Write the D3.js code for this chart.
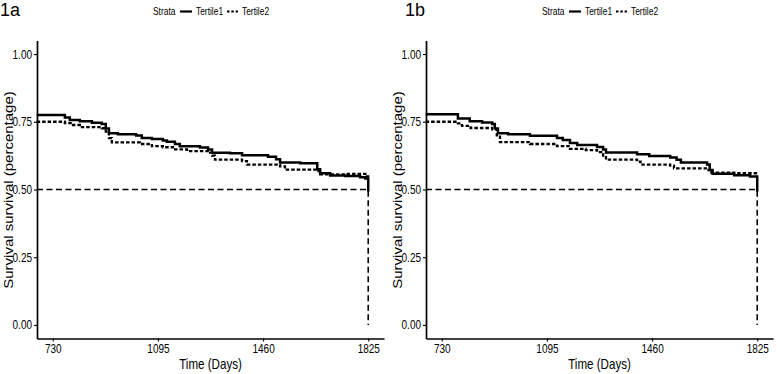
<!DOCTYPE html>
<html><head><meta charset="utf-8">
<script src="https://cdn.jsdelivr.net/npm/d3@7"></script>
<style>body{margin:0;background:#fff}svg{display:block}text{font-family:"Liberation Sans",Arial,sans-serif;fill:#000}</style>
</head><body><svg id="c" width="777" height="374"></svg>
<script>
// ---- data ----
const panelTitles = ["1a", "1b"];
const strataLabels = ["Tertile1", "Tertile2"];
const xTicks = [730, 1095, 1460, 1825];
const yTicks = [0, 0.25, 0.5, 0.75, 1];
const medianSurv = 0.5, medianTime = 1825;
const xDataRange = [730, 1825];
// panel 1a
const t1aTime = [674,772,789,824,866,900,914,925,956,1019,1039,1074,1112,1126,1154,1171,1241,1269,1283,1345,1387,1477,1505,1519,1589,1648,1658,1693,1745,1797,1815,1825];
const t1aSurv = [0.775,0.766,0.757,0.752,0.746,0.742,0.725,0.708,0.704,0.699,0.690,0.686,0.681,0.676,0.668,0.660,0.655,0.648,0.636,0.634,0.626,0.621,0.612,0.600,0.597,0.575,0.560,0.552,0.550,0.545,0.541,0.493];
const t2aTime = [674,772,796,824,900,914,925,935,1032,1074,1112,1147,1196,1276,1283,1293,1387,1404,1519,1536,1648,1658,1745,1815,1825];
const t2aSurv = [0.750,0.745,0.738,0.730,0.726,0.714,0.690,0.674,0.668,0.660,0.656,0.648,0.642,0.636,0.625,0.610,0.605,0.592,0.585,0.573,0.568,0.556,0.558,0.548,0.545];
// panel 1b
const t1bTime = [674,786,827,870,905,914,925,960,1036,1130,1150,1175,1200,1269,1290,1300,1408,1450,1523,1545,1560,1651,1660,1670,1745,1800,1825];
const t1bSurv = [0.778,0.762,0.752,0.747,0.742,0.725,0.708,0.704,0.698,0.690,0.683,0.672,0.664,0.657,0.648,0.637,0.630,0.624,0.618,0.610,0.600,0.592,0.572,0.558,0.553,0.548,0.492];
const t2bTime = [674,786,800,830,905,921,932,1036,1130,1175,1230,1269,1290,1300,1408,1420,1523,1536,1651,1660,1745,1825];
const t2bSurv = [0.750,0.744,0.735,0.727,0.722,0.700,0.675,0.668,0.660,0.650,0.645,0.638,0.625,0.610,0.603,0.592,0.588,0.578,0.572,0.562,0.560,0.553];

const panels = [
  {title: panelTitles[0], s1: [t1aTime, t1aSurv], s2: [t2aTime, t2aSurv]},
  {title: panelTitles[1], s1: [t1bTime, t1bSurv], s2: [t2bTime, t2bSurv]}
];

// ---- layout ----
const SX = 0.8; // horizontal squeeze of the source image
const svg = d3.select("#c");
const span = xDataRange[1] - xDataRange[0];
const x = d3.scaleLinear().domain([xDataRange[0] - 0.05*span, xDataRange[1] + 0.05*span]).range([37, 384]);
const y = d3.scaleLinear().domain([-0.05, 1.05]).range([338.5, 40.5]);
const line = d3.line().x(d => x(d[0])).y(d => y(d[1])).curve(d3.curveStepAfter);
const zip = (a, b) => a.map((v, i) => [v, b[i]]);

function sqText(g, tx, ty, str, size, anchor) {
  return g.append("text").attr("transform", `translate(${tx},${ty}) scale(${SX},1)`)
    .attr("text-anchor", anchor || "start").style("font-size", size + "px").text(str);
}

panels.forEach((p, i) => {
  const g = svg.append("g").attr("transform", `translate(${i*389},0)`);
  // title
  g.append("text").attr("x", i === 0 ? 0 : 16).attr("y", 15.5).style("font-size", "18px").text(p.title);
  // legend
  sqText(g, 153, 15, "Strata", 10.5);
  g.append("line").attr("x1", 180).attr("x2", 192).attr("y1", 11.5).attr("y2", 11.5).attr("stroke", "#000").attr("stroke-width", 2.2);
  sqText(g, 196, 15, strataLabels[0], 10.5);
  g.append("line").attr("x1", 227).attr("x2", 238).attr("y1", 11.5).attr("y2", 11.5).attr("stroke", "#000").attr("stroke-width", 2.2).attr("stroke-dasharray", "2.5,1.8");
  sqText(g, 242, 15, strataLabels[1], 10.5);

  // median lines
  g.append("path").attr("d", d3.line()([[x.range()[0], y(medianSurv)], [x(medianTime), y(medianSurv)], [x(medianTime), y(0)]]))
    .attr("fill", "none").attr("stroke", "#000").attr("stroke-width", 1.6).attr("stroke-dasharray", "6,3.5");

  // curves
  g.append("path").attr("d", line(zip(p.s2[0], p.s2[1]))).attr("fill", "none").attr("stroke", "#000")
    .attr("stroke-width", 2.3).attr("stroke-dasharray", "3.5,2");
  g.append("path").attr("d", line(zip(p.s1[0], p.s1[1]))).attr("fill", "none").attr("stroke", "#000")
    .attr("stroke-width", 2.5);

  // axes
  const ya = g.append("g").attr("transform", `translate(${x.range()[0]},0)`)
    .call(d3.axisLeft(y).tickValues(yTicks).tickFormat(d3.format(".2f")).tickSize(3).tickPadding(2).tickSizeOuter(0));
  const xa = g.append("g").attr("transform", `translate(0,${y.range()[0]})`)
    .call(d3.axisBottom(x).tickValues(xTicks).tickFormat(d3.format("d")).tickSize(3).tickPadding(3).tickSizeOuter(0));
  [ya, xa].forEach(a => {
    a.select(".domain").attr("stroke", "#000").attr("stroke-width", 1.7);
    a.selectAll(".tick line").attr("stroke", "#000").attr("stroke-width", 1.1);
    a.selectAll(".tick text").style("font-size", "12.5px").style("font-family", "Liberation Sans, Arial, sans-serif").attr("fill", "#000");
  });
  ya.selectAll(".tick text").each(function() {
    const t = d3.select(this); const xx = +t.attr("x");
    t.attr("x", xx / SX).attr("transform", `scale(${SX},1)`);
  });
  xa.selectAll(".tick text").attr("transform", `scale(${SX},1)`);

  // axis titles
  sqText(g, (x.range()[0] + x.range()[1]) / 2, 369, "Time (Days)", 14.5, "middle");
  g.append("text").attr("transform", `translate(13,190) scale(${SX},1) rotate(-90)`)
    .attr("text-anchor", "middle").style("font-size", "15px").text("Survival survival (percentage)");
});
</script></body></html>
